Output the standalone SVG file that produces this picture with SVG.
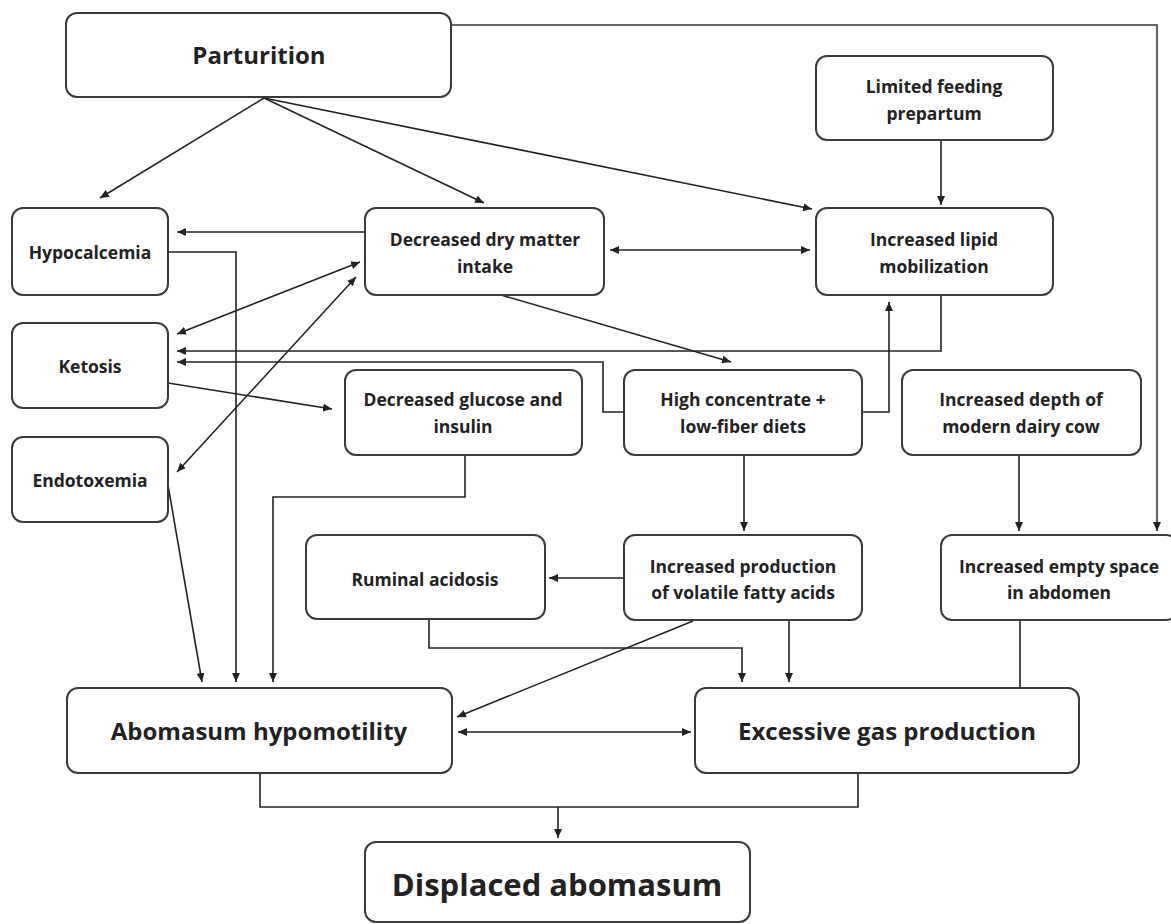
<svg xmlns="http://www.w3.org/2000/svg" width="1171" height="924" viewBox="0 0 1171 924">
<style>
.box{fill:#fff;stroke:#3a3a3a;stroke-width:2}
.t{font-family:"Open Sans","Liberation Sans",sans-serif;font-weight:bold;font-size:17.5px;fill:#222;text-anchor:middle}
.tl{font-size:24px}
.tx{font-size:31px}
.c{fill:none;stroke:#222;stroke-width:1.6}
.cg{fill:none;stroke:#666;stroke-width:2.2}
</style>
<defs>
<marker id="ah" markerUnits="userSpaceOnUse" markerWidth="10" markerHeight="8" refX="9" refY="4" orient="auto-start-reverse">
<path d="M0,0 L9,4 L0,8 z" fill="#222"/>
</marker>
</defs>
<rect width="1171" height="924" fill="#fff"/>
<g id="connectors">
<path class="cg" d="M451 25 H1157 V531" marker-end="url(#ah)"/>
<path class="c" d="M264 98 L100 198" marker-end="url(#ah)"/>
<path class="c" d="M264 98 L484 203" marker-end="url(#ah)"/>
<path class="c" d="M264 98 L812 209" marker-end="url(#ah)"/>
<path class="c" d="M941 140 V205" marker-end="url(#ah)"/>
<path class="c" d="M610 250 H810" marker-start="url(#ah)" marker-end="url(#ah)"/>
<path class="c" d="M366 232 H177" marker-end="url(#ah)"/>
<path class="c" d="M168 252 H236 V682" marker-end="url(#ah)"/>
<path class="c" d="M177 334 L360 262" marker-start="url(#ah)" marker-end="url(#ah)"/>
<path class="c" d="M177 472 L356 277" marker-start="url(#ah)" marker-end="url(#ah)"/>
<path class="c" d="M941 295 V351 H177" marker-end="url(#ah)"/>
<path class="c" d="M624 412 H603 V362 H177" marker-end="url(#ah)"/>
<path class="c" d="M862 412 H889 V302" marker-end="url(#ah)"/>
<path class="c" d="M501 295 L731 362" marker-end="url(#ah)"/>
<path class="c" d="M168 383 L332 409" marker-end="url(#ah)"/>
<path class="c" d="M168 485 L202 682" marker-end="url(#ah)"/>
<path class="c" d="M465 455 V497 H273 V682" marker-end="url(#ah)"/>
<path class="c" d="M744 455 V531" marker-end="url(#ah)"/>
<path class="c" d="M624 578 H549" marker-end="url(#ah)"/>
<path class="c" d="M429 619 V648 H742 V682" marker-end="url(#ah)"/>
<path class="c" d="M789 620 V682" marker-end="url(#ah)"/>
<path class="c" d="M693 621 L457 717" marker-end="url(#ah)"/>
<path class="c" d="M458 732 H691" marker-start="url(#ah)" marker-end="url(#ah)"/>
<path class="c" d="M1019 455 V531" marker-end="url(#ah)"/>
<path class="c" d="M1020 620 V688"/>
<path class="c" d="M260 773 V807 H858 V773"/>
<path class="c" d="M558 807 V838" marker-end="url(#ah)"/>
</g>
<g id="parturition"><rect class="box" x="66" y="13" width="385" height="84" rx="11"/><text class="t tl" x="259" y="64">Parturition</text></g>
<g id="limited-feeding"><rect class="box" x="816" y="56" width="237" height="84" rx="11"/><text class="t" x="934" y="93">Limited feeding</text><text class="t" x="934" y="120">prepartum</text></g>
<g id="hypocalcemia"><rect class="box" x="12" y="208" width="156" height="87" rx="11"/><text class="t" x="90" y="259">Hypocalcemia</text></g>
<g id="dmi"><rect class="box" x="365" y="208" width="239" height="87" rx="11"/><text class="t" x="485" y="246">Decreased dry matter</text><text class="t" x="485" y="273">intake</text></g>
<g id="lipid"><rect class="box" x="816" y="208" width="237" height="87" rx="11"/><text class="t" x="934" y="246">Increased lipid</text><text class="t" x="934" y="273">mobilization</text></g>
<g id="ketosis"><rect class="box" x="12" y="323" width="156" height="85" rx="11"/><text class="t" x="90" y="373">Ketosis</text></g>
<g id="endotoxemia"><rect class="box" x="12" y="437" width="156" height="85" rx="11"/><text class="t" x="90" y="487">Endotoxemia</text></g>
<g id="glucose"><rect class="box" x="345" y="370" width="237" height="85" rx="11"/><text class="t" x="463" y="406">Decreased glucose and</text><text class="t" x="463" y="433">insulin</text></g>
<g id="high-concentrate"><rect class="box" x="624" y="370" width="238" height="85" rx="11"/><text class="t" x="743" y="406">High concentrate +</text><text class="t" x="743" y="433">low-fiber diets</text></g>
<g id="depth"><rect class="box" x="902" y="370" width="239" height="85" rx="11"/><text class="t" x="1021" y="406">Increased depth of</text><text class="t" x="1021" y="433">modern dairy cow</text></g>
<g id="ruminal-acidosis"><rect class="box" x="306" y="535" width="239" height="84" rx="11"/><text class="t" x="425" y="586">Ruminal acidosis</text></g>
<g id="vfa"><rect class="box" x="624" y="535" width="238" height="85" rx="11"/><text class="t" x="743" y="573">Increased production</text><text class="t" x="743" y="599">of volatile fatty acids</text></g>
<g id="empty-space"><rect class="box" x="941" y="535" width="236" height="85" rx="11"/><text class="t" x="1059" y="573">Increased empty space</text><text class="t" x="1059" y="599">in abdomen</text></g>
<g id="hypomotility"><rect class="box" x="67" y="688" width="385" height="85" rx="11"/><text class="t tl" x="259" y="740">Abomasum hypomotility</text></g>
<g id="gas"><rect class="box" x="695" y="688" width="384" height="85" rx="11"/><text class="t tl" x="887" y="740">Excessive gas production</text></g>
<g id="displaced"><rect class="box" x="365" y="842" width="385" height="80" rx="11"/><text class="t tx" x="557" y="896">Displaced abomasum</text></g>
</svg>
